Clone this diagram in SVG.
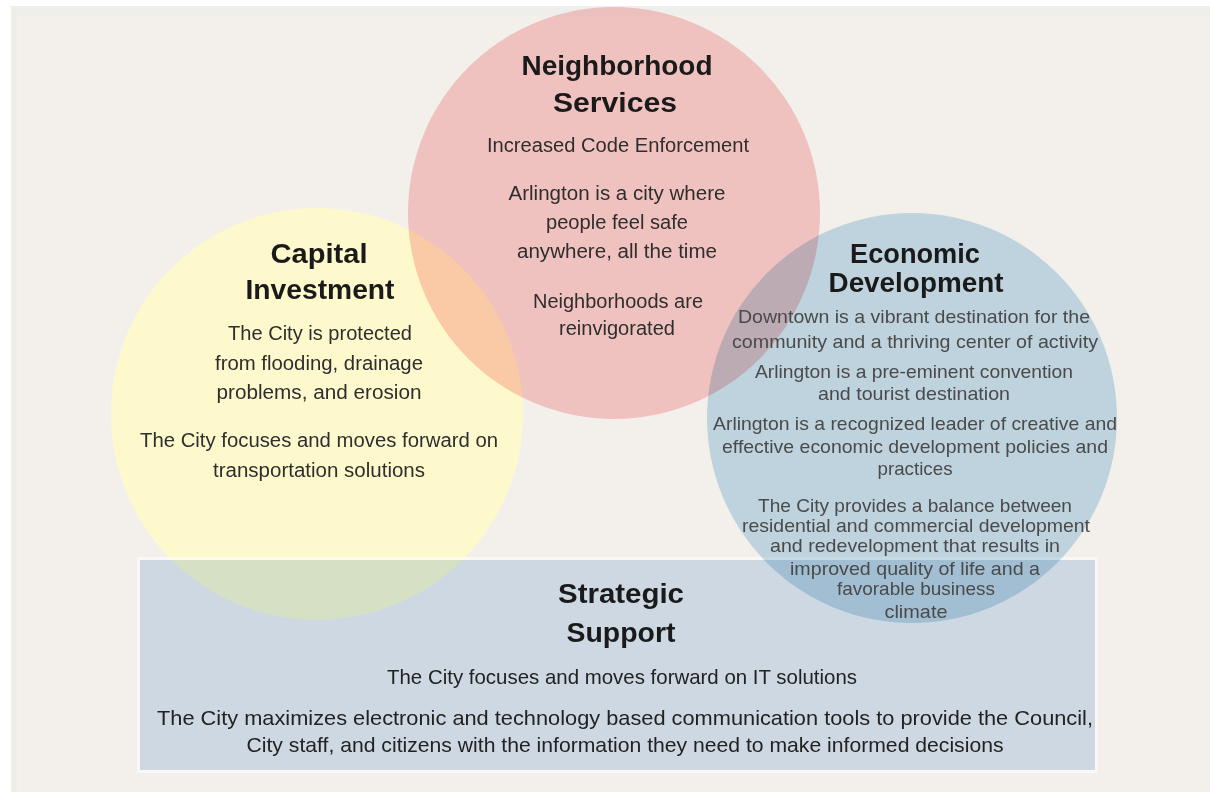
<svg xmlns="http://www.w3.org/2000/svg" width="1210" height="792" viewBox="0 0 1210 792">
  <style>
    .blend { mix-blend-mode: multiply; }
    text { font-family: "Liberation Sans", Arial, sans-serif; text-anchor: middle; }
    .h { font-weight: bold; font-size: 28px; fill: #1a1a1a; }
    .b { font-size: 20px; fill: #2e2e2e; }
    .e { font-size: 19px; fill: #4a4a4a; }
    .s { font-size: 21px; fill: #222; }
  </style>
  <rect x="0" y="0" width="1210" height="792" fill="#ffffff"/>
  <rect x="11" y="6" width="1199" height="786" fill="#f3f0ec"/>
  <rect x="11" y="6" width="1199" height="10" fill="#eeeeea"/>
  <rect x="11" y="6" width="6" height="786" fill="#efeeea"/>

  <g id="capital-investment">
    <circle cx="317" cy="414" r="206" fill="#fdf9cd"/>
    <text class="h" x="319" y="263" textLength="97" lengthAdjust="spacingAndGlyphs">Capital</text>
    <text class="h" x="320" y="299" textLength="149" lengthAdjust="spacingAndGlyphs">Investment</text>
    <text class="b" x="320" y="340" textLength="184" lengthAdjust="spacingAndGlyphs">The City is protected</text>
    <text class="b" x="319" y="370" textLength="208" lengthAdjust="spacingAndGlyphs">from flooding, drainage</text>
    <text class="b" x="319" y="399" textLength="205" lengthAdjust="spacingAndGlyphs">problems, and erosion</text>
    <text class="b" x="319" y="447" textLength="358" lengthAdjust="spacingAndGlyphs">The City focuses and moves forward on</text>
    <text class="b" x="319" y="477" textLength="212" lengthAdjust="spacingAndGlyphs">transportation solutions</text>
  </g>

  <g id="neighborhood-services">
    <circle class="blend" cx="614" cy="213" r="206" fill="#fccecf"/>
    <text class="h" x="617" y="75" textLength="191" lengthAdjust="spacingAndGlyphs">Neighborhood</text>
    <text class="h" x="615" y="112" textLength="124" lengthAdjust="spacingAndGlyphs">Services</text>
    <text class="b" x="618" y="152" textLength="262" lengthAdjust="spacingAndGlyphs">Increased Code Enforcement</text>
    <text class="b" x="617" y="200" textLength="217" lengthAdjust="spacingAndGlyphs">Arlington is a city where</text>
    <text class="b" x="617" y="229" textLength="142" lengthAdjust="spacingAndGlyphs">people feel safe</text>
    <text class="b" x="617" y="258" textLength="200" lengthAdjust="spacingAndGlyphs">anywhere, all the time</text>
    <text class="b" x="618" y="308" textLength="170" lengthAdjust="spacingAndGlyphs">Neighborhoods are</text>
    <text class="b" x="617" y="335" textLength="116" lengthAdjust="spacingAndGlyphs">reinvigorated</text>
  </g>

  <g id="strategic-support">
    <rect class="blend" x="140" y="560" width="955" height="210" fill="#d7e6f5"/>
    <rect x="138.5" y="558.5" width="958" height="213" fill="none" stroke="#ffffff" stroke-opacity="0.55" stroke-width="3"/>
    <text class="h" x="621" y="603" textLength="126" lengthAdjust="spacingAndGlyphs">Strategic</text>
    <text class="h" x="621" y="642" textLength="109" lengthAdjust="spacingAndGlyphs">Support</text>
    <text class="s" x="622" y="684" textLength="470" lengthAdjust="spacingAndGlyphs">The City focuses and moves forward on IT solutions</text>
    <text class="s" x="625" y="725" textLength="936" lengthAdjust="spacingAndGlyphs">The City maximizes electronic and technology based communication tools to provide the Council,</text>
    <text class="s" x="625" y="752" textLength="757" lengthAdjust="spacingAndGlyphs">City staff, and citizens with the information they need to make informed decisions</text>
  </g>

  <g id="economic-development">
    <circle class="blend" cx="912" cy="418" r="205" fill="#c8e1ef"/>
    <text class="h" x="915" y="263" textLength="130" lengthAdjust="spacingAndGlyphs">Economic</text>
    <text class="h" x="916" y="292" textLength="175" lengthAdjust="spacingAndGlyphs">Development</text>
    <text class="e" x="914" y="323" textLength="352" lengthAdjust="spacingAndGlyphs">Downtown is a vibrant destination for the</text>
    <text class="e" x="915" y="348" textLength="366" lengthAdjust="spacingAndGlyphs">community and a thriving center of activity</text>
    <text class="e" x="914" y="378" textLength="318" lengthAdjust="spacingAndGlyphs">Arlington is a pre-eminent convention</text>
    <text class="e" x="914" y="400" textLength="192" lengthAdjust="spacingAndGlyphs">and tourist destination</text>
    <text class="e" x="915" y="430" textLength="404" lengthAdjust="spacingAndGlyphs">Arlington is a recognized leader of creative and</text>
    <text class="e" x="915" y="453" textLength="386" lengthAdjust="spacingAndGlyphs">effective economic development policies and</text>
    <text class="e" x="915" y="475" textLength="75" lengthAdjust="spacingAndGlyphs">practices</text>
    <text class="e" x="915" y="512" textLength="314" lengthAdjust="spacingAndGlyphs">The City provides a balance between</text>
    <text class="e" x="916" y="532" textLength="348" lengthAdjust="spacingAndGlyphs">residential and commercial development</text>
    <text class="e" x="915" y="552" textLength="290" lengthAdjust="spacingAndGlyphs">and redevelopment that results in</text>
    <text class="e" x="915" y="575" textLength="250" lengthAdjust="spacingAndGlyphs">improved quality of life and a</text>
    <text class="e" x="916" y="595" textLength="158" lengthAdjust="spacingAndGlyphs">favorable business</text>
    <text class="e" x="916" y="618" textLength="63" lengthAdjust="spacingAndGlyphs">climate</text>
  </g>
</svg>
